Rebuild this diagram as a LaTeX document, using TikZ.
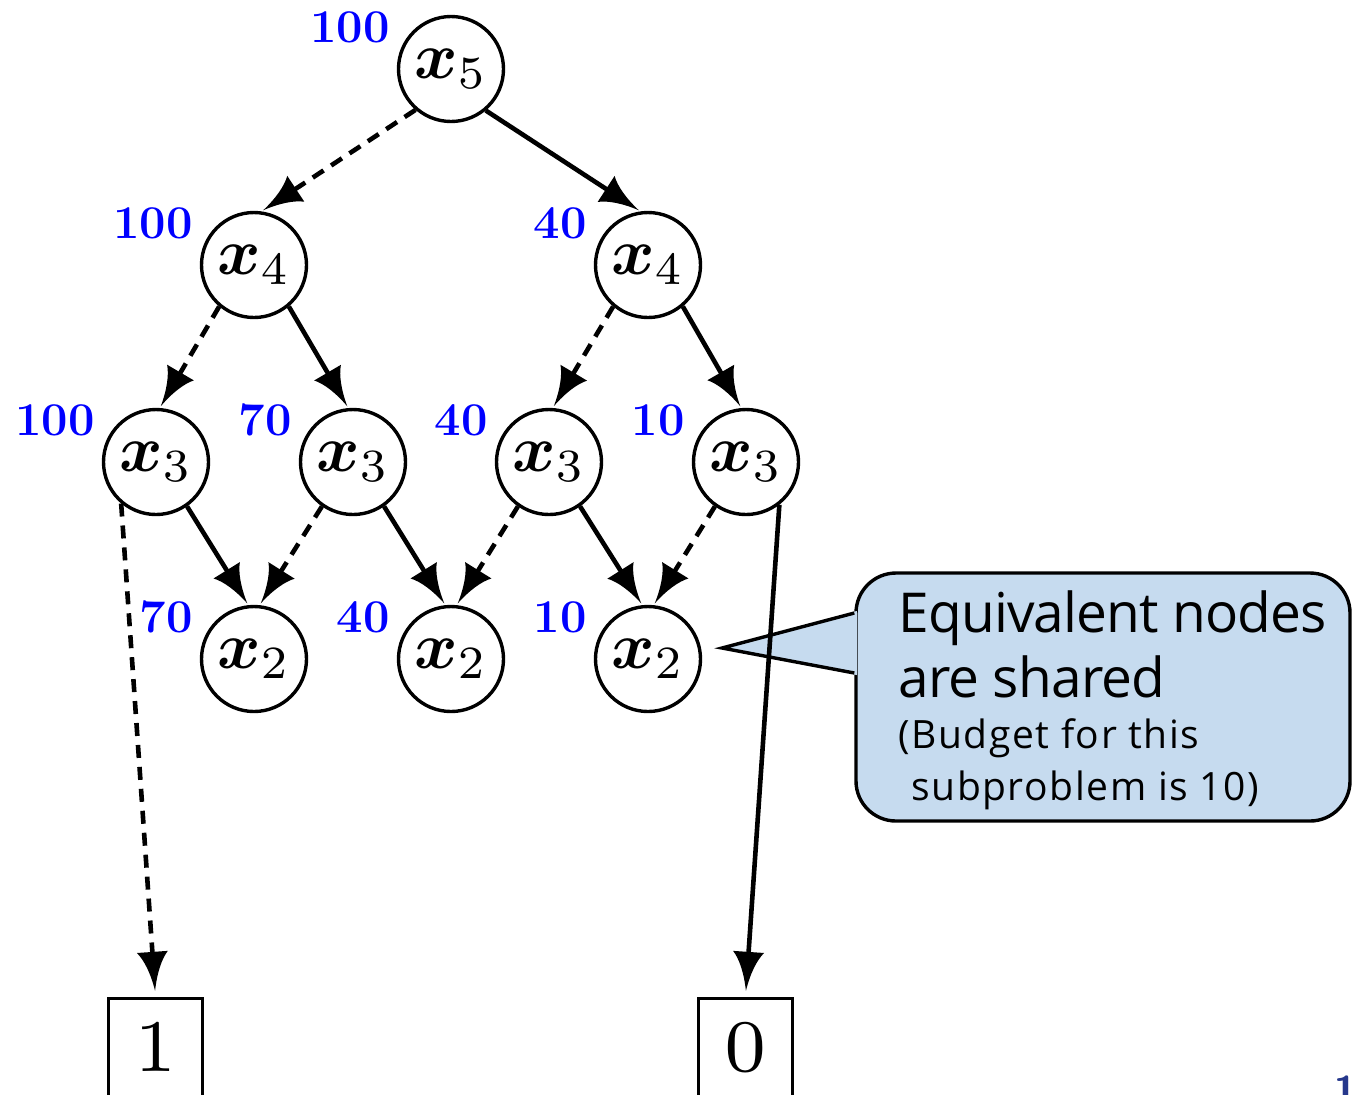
\documentclass[tikz,border=0pt]{standalone}
\usepackage{fontspec}
\usepackage{bm}
\usetikzlibrary{arrows.meta,calc}
\newfontfamily\notefont{Open Sans}
\definecolor{noteblue}{RGB}{198,219,239}
\definecolor{numblue}{RGB}{0,0,255}
\definecolor{pageblue}{RGB}{38,56,140}

% arrow tip with concave flanks and a flat back
\pgfdeclarearrow{
  name = Concave,
  parameters = {\the\pgfarrowlength,\the\pgfarrowwidth},
  setup code = {
    \pgfarrowssettipend{0pt}
    \pgfarrowssetlineend{-.7\pgfarrowlength}
    \pgfarrowssetbackend{-\pgfarrowlength}
    \pgfarrowsupperhullpoint{-\pgfarrowlength}{.5\pgfarrowwidth}
    \pgfarrowsupperhullpoint{0pt}{0pt}
    \pgfarrowssavethe\pgfarrowlength
    \pgfarrowssavethe\pgfarrowwidth
  },
  drawing code = {
    \pgfpathmoveto{\pgfpointorigin}
    \pgfpathcurveto{\pgfpoint{-.45\pgfarrowlength}{.1\pgfarrowwidth}}
                   {\pgfpoint{-.8\pgfarrowlength}{.28\pgfarrowwidth}}
                   {\pgfpoint{-\pgfarrowlength}{.5\pgfarrowwidth}}
    \pgfpathlineto{\pgfpoint{-\pgfarrowlength}{-.5\pgfarrowwidth}}
    \pgfpathcurveto{\pgfpoint{-.8\pgfarrowlength}{-.28\pgfarrowwidth}}
                   {\pgfpoint{-.45\pgfarrowlength}{-.1\pgfarrowwidth}}
                   {\pgfpointorigin}
    \pgfpathclose
    \pgfusepathqfill
  },
  defaults = {length = 19.5pt, width = 15.5pt}
}

% variable label: bold x with a plain index, enlarged as a whole
\newcommand{\bddvar}[1]{\scalebox{3.3}{$\bm{x}_{#1}$}}
\newcommand{\bddterm}[1]{\scalebox{5.3}{$\scriptstyle #1$}}

\begin{document}
\begin{tikzpicture}[x=0.5pt,y=-0.5pt,
  var/.style={circle,draw,line width=1.7pt,minimum size=52.5pt,inner sep=0pt},
  term/.style={rectangle,draw,line width=1.7pt,minimum width=47pt,minimum height=49pt,
    inner sep=0pt},
  num/.style={text=numblue,inner sep=0pt,anchor=base east,
    font=\fontsize{23.5}{23.5}\selectfont\bfseries},
  bddarrow/.style={line width=2.3pt,-{Concave},shorten >=1pt},
  loedge/.style={bddarrow,dash pattern=on 6.5pt off 4.5pt},
  hiedge/.style={bddarrow},
  notebox/.style={rectangle,draw,fill=noteblue,line width=1.7pt,rounded corners=20pt,
    minimum width=247pt,minimum height=124pt,inner sep=0pt},
  bigtxt/.style={inner sep=0pt,anchor=base west,
    font=\notefont\addfontfeature{LetterSpace=-1.5}\fontsize{27.5}{27.5}\selectfont},
  smalltxt/.style={inner sep=0pt,anchor=base west,
    font=\notefont\addfontfeature{LetterSpace=4}\fontsize{19.5}{19.5}\selectfont}
]
\useasboundingbox (0,0) rectangle (1354,1094);

% decision nodes
\node[var] (x5)  at (451,69)  {\bddvar{5}};
\node[var] (x4a) at (254,265) {\bddvar{4}};
\node[var] (x4b) at (648,265) {\bddvar{4}};
\node[var] (x3a) at (156,462) {\bddvar{3}};
\node[var] (x3b) at (353,462) {\bddvar{3}};
\node[var] (x3c) at (549,462) {\bddvar{3}};
\node[var] (x3d) at (746,462) {\bddvar{3}};
\node[var] (x2a) at (254,659) {\bddvar{2}};
\node[var] (x2b) at (451,659) {\bddvar{2}};
\node[var] (x2c) at (648,659) {\bddvar{2}};

% terminal nodes
\node[term] (t1) at (155.5,1047.5) {\bddterm{1}};
\node[term] (t0) at (745.5,1047.5) {\bddterm{0}};

% budgets
\node[num] (b5)  at ($(x5)+(-61,-27)$)  {100};
\node[num] (b4a) at ($(x4a)+(-61,-27)$) {100};
\node[num] (b4b) at ($(x4b)+(-61,-27)$) {40};
\node[num] (b3a) at ($(x3a)+(-61,-27)$) {100};
\node[num] (b3b) at ($(x3b)+(-61,-27)$) {70};
\node[num] (b3c) at ($(x3c)+(-61,-27)$) {40};
\node[num] (b3d) at ($(x3d)+(-61,-27)$) {10};
\node[num] (b2a) at ($(x2a)+(-61,-27)$) {70};
\node[num] (b2b) at ($(x2b)+(-61,-27)$) {40};
\node[num] (b2c) at ($(x2c)+(-61,-27)$) {10};

% callout
\node[notebox] (note) at (1103,697) {};
\coordinate (ptip) at (722,648);
\coordinate (pup) at ($(note.west)+(0,-84)$);
\coordinate (plow) at ($(note.west)+(0,-24)$);
\fill[noteblue] (ptip) -- ($(pup)+(2.5,-2)$) -- ($(plow)+(2.5,2)$) -- cycle;
\draw[line width=1.7pt] (pup) -- (ptip) -- (plow);
\node[bigtxt] (n1) at (898,632) {Equivalent nodes};
\node[bigtxt] (n2) at (898,697) {are shared};
\node[smalltxt] (n3) at (898,748) {(Budget for this};
\node[smalltxt] (n4) at (911,800) {subproblem is 10)};

% edges: dashed = 0-branch, solid = 1-branch
\draw[loedge] (x5.229) -- (x4a.82);
\draw[hiedge] (x5.310) -- (x4b.98);
\draw[loedge] (x4a.230) -- (x3a.86);
\draw[hiedge] (x4a.310) -- (x3b.95);
\draw[loedge] (x4b.230) -- (x3c.86);
\draw[hiedge] (x4b.310) -- (x3d.95);
\draw[hiedge] (x3a.305) -- (x2a.96);
\draw[loedge] (x3b.235) -- (x2a.84);
\draw[hiedge] (x3b.305) -- (x2b.96);
\draw[loedge] (x3c.235) -- (x2b.84);
\draw[hiedge] (x3c.305) -- (x2c.96);
\draw[loedge] (x3d.235) -- (x2c.84);
\draw[loedge,shorten >=3pt] (x3a.230) -- (t1.north);
\draw[hiedge,shorten >=3pt] (x3d.308) -- (t0.north);

% page number, mostly below the frame
\node[text=pageblue,inner sep=0pt,anchor=north west,font=\sffamily\bfseries\fontsize{20}{20}\selectfont]
  (pageno) at (1334,1075) {1};
\end{tikzpicture}
\end{document}
